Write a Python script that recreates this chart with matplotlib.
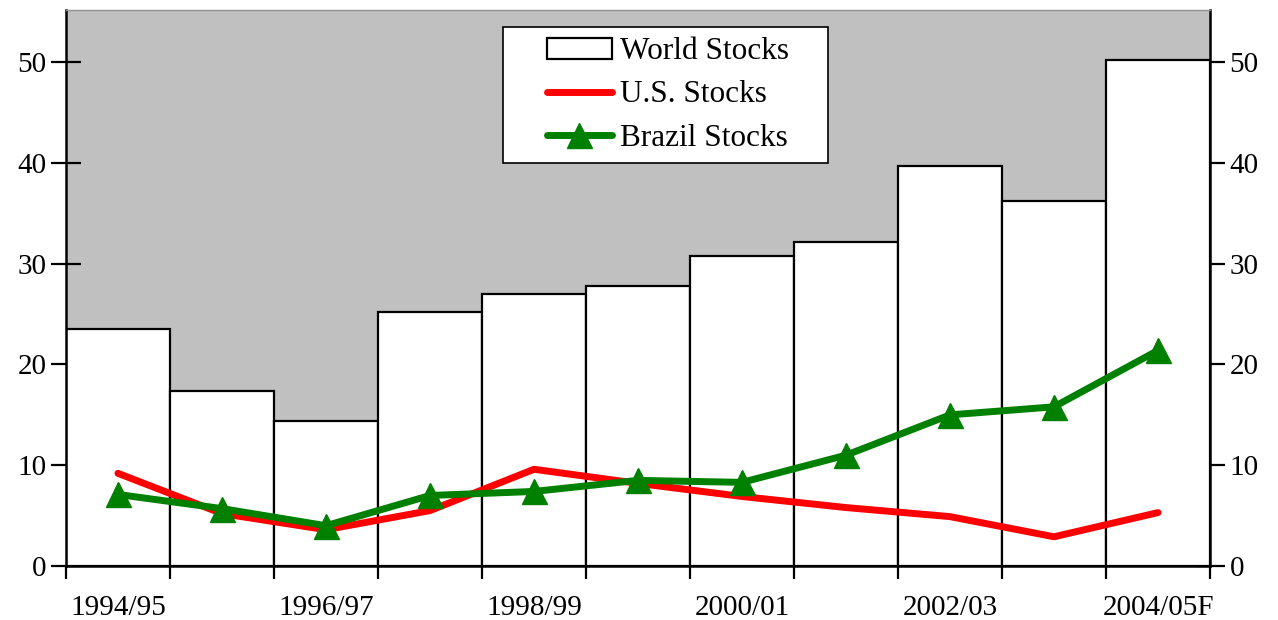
import numpy as np
import matplotlib.pyplot as plt
from matplotlib.patches import Rectangle

plt.rcParams['font.family'] = ['Liberation Serif', 'DejaVu Serif']

# marketing years, one bar per year
years = ['1994/95', '1995/96', '1996/97', '1997/98', '1998/99', '1999/00',
         '2000/01', '2001/02', '2002/03', '2003/04', '2004/05F']
world = [23.5, 17.4, 14.4, 25.2, 27.0, 27.8, 30.8, 32.2, 39.7, 36.2, 50.2]
us = [9.2, 5.2, 3.6, 5.5, 9.6, 8.2, 6.9, 5.8, 4.9, 2.9, 5.3]
brazil = [7.1, 5.7, 4.0, 7.0, 7.4, 8.5, 8.3, 11.0, 15.0, 15.8, 21.4]

x = np.arange(len(years))

fig = plt.figure(figsize=(12.78, 6.2), dpi=100)
ax = fig.add_axes([0.0516, 0.0871, 0.8952, 0.897])
ax.set_facecolor('#c0c0c0')

bars = ax.bar(x, world, width=1.0, color='white', edgecolor='black',
              linewidth=1.6, label='World Stocks', zorder=2)
l_us, = ax.plot(x, us, color='#ff0000', lw=5, solid_capstyle='round',
                solid_joinstyle='round', label='U.S. Stocks', zorder=3)
l_br, = ax.plot(x, brazil, color='#008000', lw=5, marker='^', ms=18,
                solid_capstyle='round', label='Brazil Stocks', zorder=4)

ax.set_xlim(-0.5, len(years) - 0.5)
ax.set_ylim(0, 55.2)

# ticks at bar boundaries, labels on every other bar
ax.set_xticks(np.arange(len(years) + 1) - 0.5)
ax.set_xticklabels([])
ax.set_xticks(x[::2], minor=True)
ax.set_xticklabels(years[::2], minor=True)
ax.tick_params(axis='x', which='major', direction='out', length=9, width=1.6)
ax.tick_params(axis='x', which='minor', length=0, pad=21, labelsize=21)

ax.set_yticks(np.arange(0, 51, 10))
ax.tick_params(axis='y', direction='inout', length=22, width=1.6,
               labelsize=21, pad=3, right=True, labelright=True)

for s in ['left', 'right', 'bottom']:
    ax.spines[s].set_linewidth(1.8)
ax.spines['top'].set_color('#909090')
ax.spines['top'].set_linewidth(1)

# legend box drawn separately so the padding matches
box = Rectangle((0.382, 0.725), 0.284, 0.244, transform=ax.transAxes,
                facecolor='white', edgecolor='black', lw=1.2, zorder=5)
ax.add_patch(box)
leg = ax.legend([bars, l_us, l_br], ['World Stocks', 'U.S. Stocks', 'Brazil Stocks'],
                loc='center', bbox_to_anchor=(0.526, 0.847),
                fontsize=22.5, frameon=False,
                handlelength=2.1, handleheight=0.65, handletextpad=0.25,
                borderpad=0, labelspacing=0.45, borderaxespad=0)
leg.set_zorder(6)

fig.savefig('out.png', dpi=100)
